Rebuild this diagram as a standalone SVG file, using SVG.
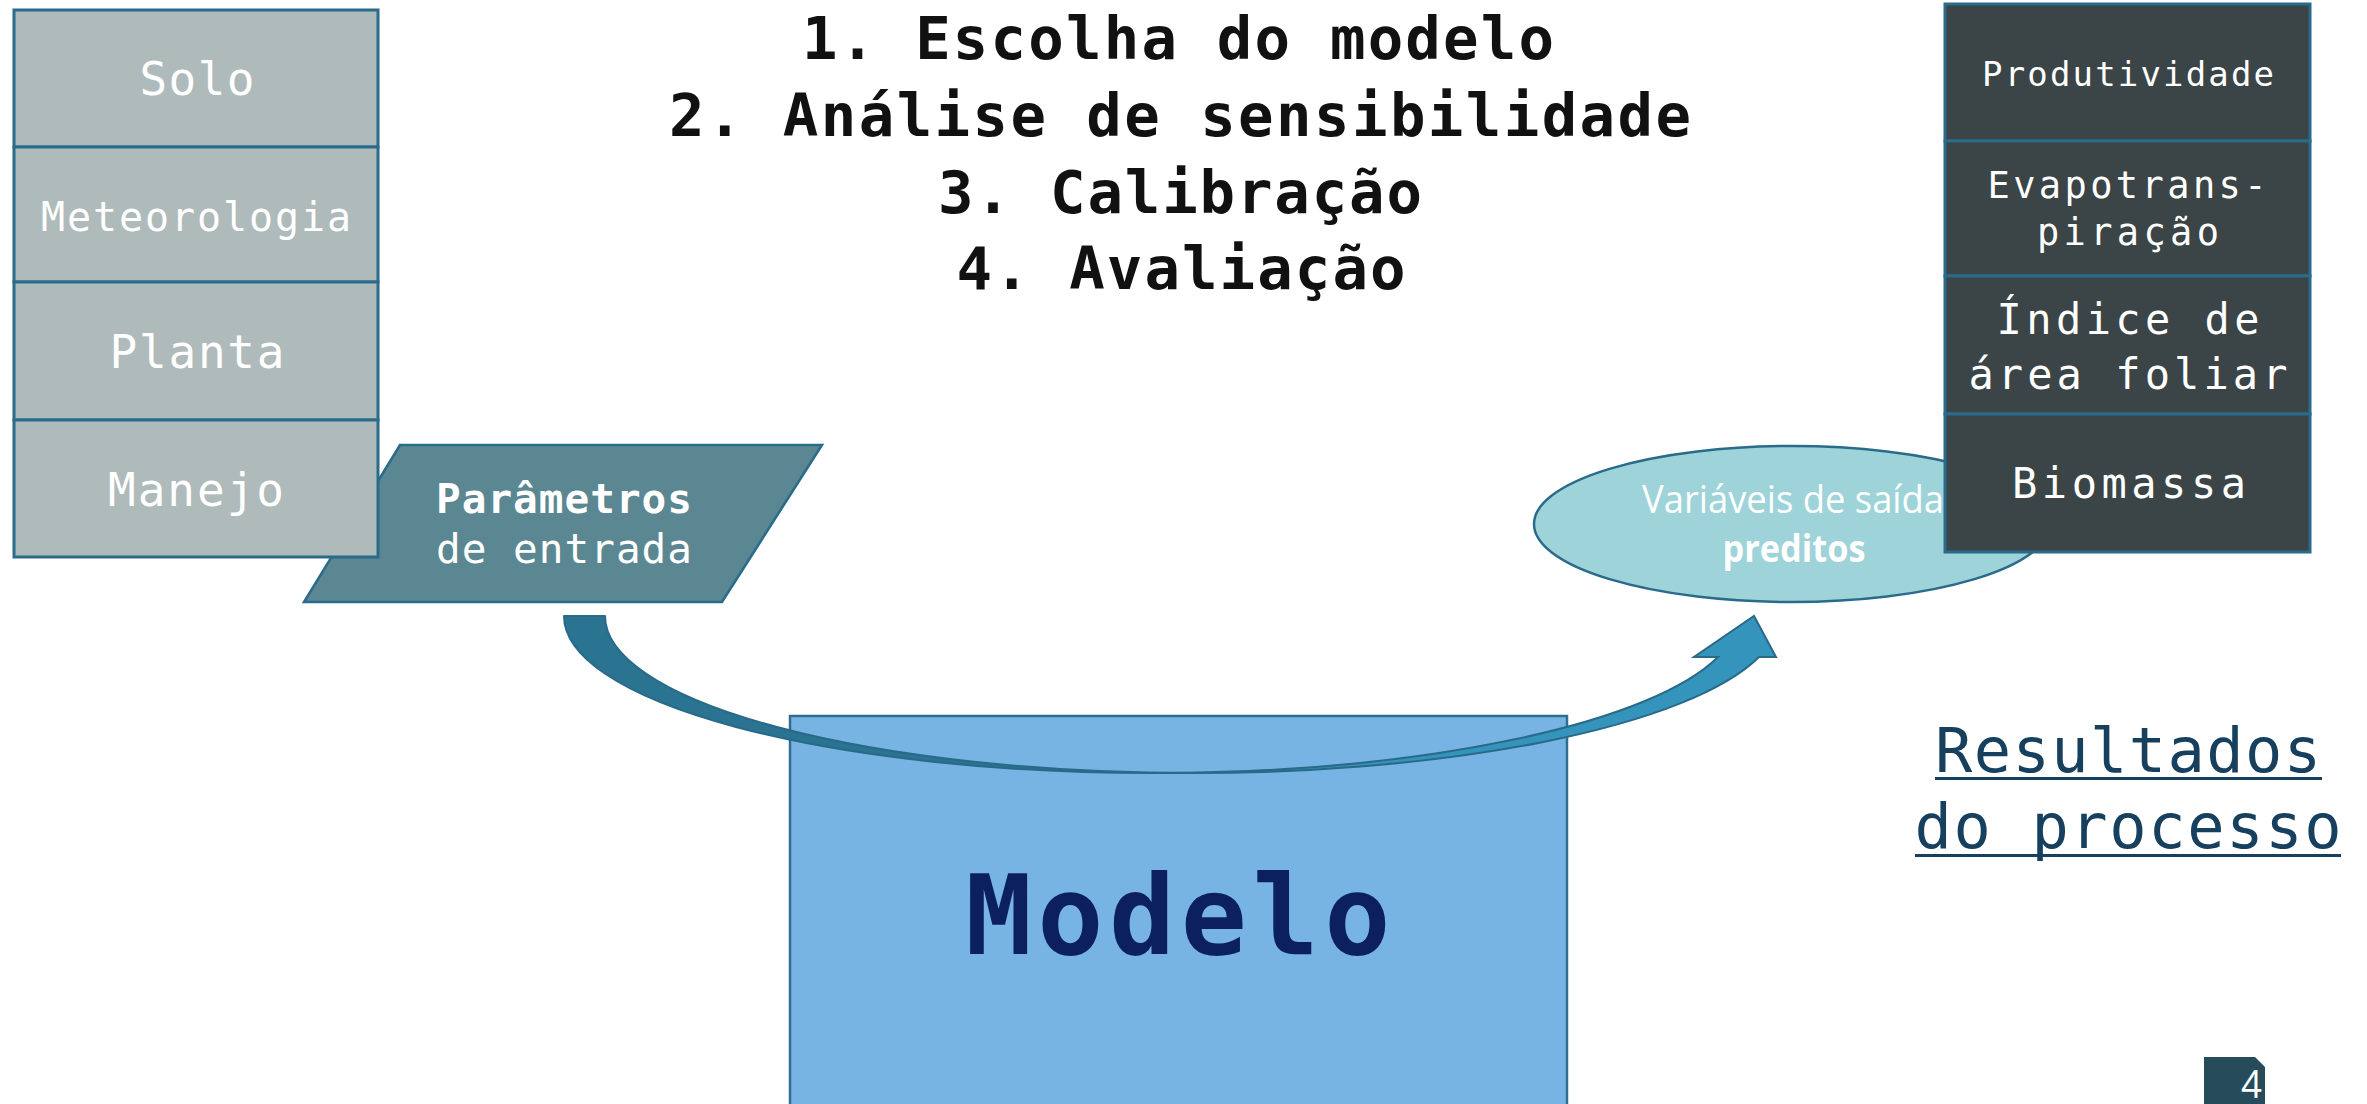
<svg xmlns="http://www.w3.org/2000/svg" width="2367" height="1104" viewBox="0 0 2367 1104">
<defs>
<style>
.mono{font-family:"DejaVu Sans Mono","Liberation Mono",monospace;}
.w{fill:#ffffff;}
.stackL{fill:#afbaba;stroke:#2a6b8b;stroke-width:3;}
.stackR{fill:#3b4446;stroke:#2a6b8b;stroke-width:3;}
.title{font-family:"DejaVu Sans Mono","Liberation Mono",monospace;font-weight:bold;font-size:59px;fill:#111111;text-anchor:middle;}
.sans{font-family:"Open Sans","Noto Sans","Liberation Sans",sans-serif;}
</style>
</defs>
<rect width="2367" height="1104" fill="#ffffff"/>

<g id="titulo">
<text class="title" x="1178" y="59" textLength="752">1. Escolha do modelo</text>
<text class="title" x="1180" y="136" textLength="1022">2. Análise de sensibilidade</text>
<text class="title" x="1180" y="213" textLength="484">3. Calibração</text>
<text class="title" x="1181" y="289" textLength="449">4. Avaliação</text>
</g>

<g id="modelo">
<rect x="790" y="716" width="777" height="400" fill="#77b4e3" stroke="#2e6f90" stroke-width="2.5"/>
<text class="mono" x="1178" y="954" font-size="110" font-weight="bold" fill="#0c1f5e" text-anchor="middle" textLength="425">Modelo</text>
</g>

<g id="parametros">
<polygon points="400,445 822,445 722,602 304,602" fill="#5a8792" stroke="#2a6b8b" stroke-width="2.5"/>
<text class="mono w" x="564" y="513" font-size="41" font-weight="bold" text-anchor="middle" textLength="256">Parâmetros</text>
<text class="mono w" x="564" y="563" font-size="41" text-anchor="middle" textLength="256">de entrada</text>
</g>

<g id="entradas">
<rect class="stackL" x="14" y="10" width="364" height="137"/>
<rect class="stackL" x="14" y="147" width="364" height="135"/>
<rect class="stackL" x="14" y="282" width="364" height="138"/>
<rect class="stackL" x="14" y="420" width="364" height="137"/>
<text class="mono w" x="197" y="95" font-size="46" text-anchor="middle" textLength="115">Solo</text>
<text class="mono w" x="196" y="231" font-size="40" text-anchor="middle" textLength="310">Meteorologia</text>
<text class="mono w" x="197" y="368" font-size="46" text-anchor="middle" textLength="175">Planta</text>
<text class="mono w" x="196" y="506" font-size="46" text-anchor="middle" textLength="176">Manejo</text>
</g>

<g id="variaveis">
<ellipse cx="1792" cy="524" rx="258" ry="78" fill="#9dd3d9" stroke="#2a6b8b" stroke-width="2.5"/>
<text class="sans w" x="1793" y="513" font-size="38" text-anchor="middle" textLength="302" lengthAdjust="spacingAndGlyphs">Variáveis de saída</text>
<text class="sans w" x="1794" y="562" font-size="38" font-weight="bold" text-anchor="middle" textLength="143" lengthAdjust="spacingAndGlyphs">preditos</text>
</g>

<g id="saidas">
<rect class="stackR" x="1945" y="4" width="365" height="137"/>
<rect class="stackR" x="1945" y="141" width="365" height="135"/>
<rect class="stackR" x="1945" y="276" width="365" height="138"/>
<rect class="stackR" x="1945" y="414" width="365" height="138"/>
<text class="mono w" x="2128" y="86" font-size="34" text-anchor="middle" textLength="292">Produtividade</text>
<text class="mono w" x="2127" y="198" font-size="37" text-anchor="middle" textLength="279">Evapotrans-</text>
<text class="mono w" x="2128" y="245" font-size="37" text-anchor="middle" textLength="182">piração</text>
<text class="mono w" x="2128" y="334" font-size="42" text-anchor="middle" textLength="263">Índice de</text>
<text class="mono w" x="2128" y="389" font-size="42" text-anchor="middle" textLength="319">área foliar</text>
<text class="mono w" x="2129" y="498" font-size="42" text-anchor="middle" textLength="234">Biomassa</text>
</g>

<g id="resultados">
<text class="mono" x="2128" y="772" font-size="62" fill="#17405f" text-anchor="middle" textLength="386">Resultados</text>
<text class="mono" x="2128" y="848" font-size="62" fill="#17405f" text-anchor="middle" textLength="427">do processo</text>
<rect x="1935" y="777" width="387" height="3" fill="#17405f"/>
<rect x="1915" y="854" width="426" height="3" fill="#17405f"/>
</g>

<g id="conectores">
<path d="M1151,773 A587,157 0 0 1 564,616 L605,616 A587,157 0 0 0 1192,773 Z" fill="#2a7391" stroke="#286a88" stroke-width="2" stroke-linejoin="round"/>
<path d="M1171.5,773 A587,157 0 0 0 1718,657 L1694,657 L1754,616 L1776,657 L1759,657 A587,157 0 0 1 1171.5,773 Z" fill="#3594bb" stroke="#286a88" stroke-width="2" stroke-linejoin="miter"/>
</g>

<g id="pagina">
<path d="M2204,1057 L2255,1057 L2265,1067 L2265,1104 L2204,1104 Z" fill="#264c5b"/>
<text class="sans w" x="2262" y="1098" font-size="38" text-anchor="end" textLength="21" lengthAdjust="spacingAndGlyphs">4</text>
</g>
</svg>
